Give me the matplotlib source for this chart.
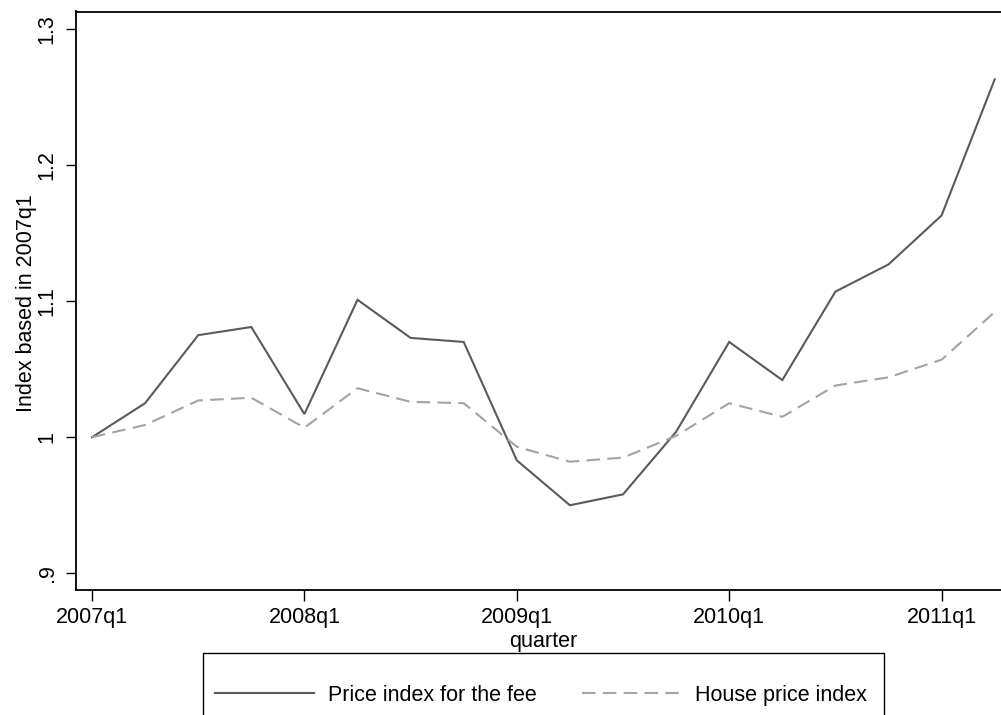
import matplotlib
matplotlib.use("Agg")
import matplotlib.pyplot as plt
from matplotlib.patches import Rectangle

plt.rcParams['font.family'] = ['Liberation Sans', 'DejaVu Sans']

quarters = ["2007q1", "2007q2", "2007q3", "2007q4",
            "2008q1", "2008q2", "2008q3", "2008q4",
            "2009q1", "2009q2", "2009q3", "2009q4",
            "2010q1", "2010q2", "2010q3", "2010q4",
            "2011q1", "2011q2"]
fee_index = [1.000, 1.025, 1.075, 1.081, 1.017, 1.101, 1.073, 1.070,
             0.983, 0.950, 0.958, 1.004, 1.070, 1.042, 1.107, 1.127,
             1.163, 1.263]
house_index = [1.000, 1.009, 1.027, 1.029, 1.007, 1.036, 1.026, 1.025,
               0.993, 0.982, 0.985, 1.001, 1.025, 1.015, 1.038, 1.044,
               1.057, 1.092]
xtick_pos = [0, 4, 8, 12, 16]
xtick_labels = ["2007q1", "2008q1", "2009q1", "2010q1", "2011q1"]
ytick_vals = [0.9, 1.0, 1.1, 1.2, 1.3]
ytick_labels = [".9", "1", "1.1", "1.2", "1.3"]
series_names = ["Price index for the fee", "House price index"]

FS = 15.5
W, H = 1001, 715
fig = plt.figure(figsize=(W / 100, H / 100), dpi=100)
left_px, right_px, top_px, bot_px = 76, 1006, 11.5, 590
ax = fig.add_axes([left_px / W, 1 - bot_px / H, (right_px - left_px) / W, (bot_px - top_px) / H])

x = list(range(len(quarters)))
l1, = ax.plot(x, fee_index, color='#5a5a5a', lw=1.5, solid_joinstyle='miter')
l2, = ax.plot(x, house_index, color='#a3a3a3', lw=1.5, dashes=(6.5, 3.5))

x0px, qpx = 92, 53.1
ax.set_xlim((left_px - x0px) / qpx, (right_px - x0px) / qpx)
ax.set_ylim(0.9 - (bot_px - 573.3) / 1360, 1.3 + (29 - top_px) / 1360)

ax.set_xticks(xtick_pos)
ax.set_xticklabels(xtick_labels, fontsize=FS)
ax.set_yticks(ytick_vals)
ax.set_yticklabels(ytick_labels, fontsize=FS, rotation=90, va='center')
ax.tick_params(axis='x', length=8, width=1, pad=4.5, colors='black')
ax.tick_params(axis='y', length=7.2, width=1, pad=6, colors='black')
for s in ax.spines.values():
    s.set_linewidth(1.3)

ax.set_xlabel("quarter", fontsize=FS)
ax.xaxis.set_label_coords((543 - left_px) / (right_px - left_px), (bot_px - 631) / (bot_px - top_px))
ax.set_ylabel("Index based in 2007q1", fontsize=FS)
ax.yaxis.set_label_coords((37 - left_px) / (right_px - left_px), (bot_px - 303) / (bot_px - top_px))

# legend frame (bottom runs past the image edge, as in the reference)
fig.patches.append(Rectangle((203 / W, -0.1), (884 - 203) / W, 1 - 653 / H + 0.1,
                             transform=fig.transFigure, fill=False,
                             edgecolor='black', linewidth=1.0))
fs_px = FS * 100 / 72
leg = fig.legend([l1, l2], series_names, loc='upper left',
                 bbox_to_anchor=(215 / W, 1 - 685 / H), ncol=2, fontsize=FS,
                 frameon=False, handlelength=99 / fs_px, handletextpad=14 / fs_px,
                 columnspacing=45 / fs_px, borderpad=0, borderaxespad=0)

fig.savefig("out.png", dpi=100)
